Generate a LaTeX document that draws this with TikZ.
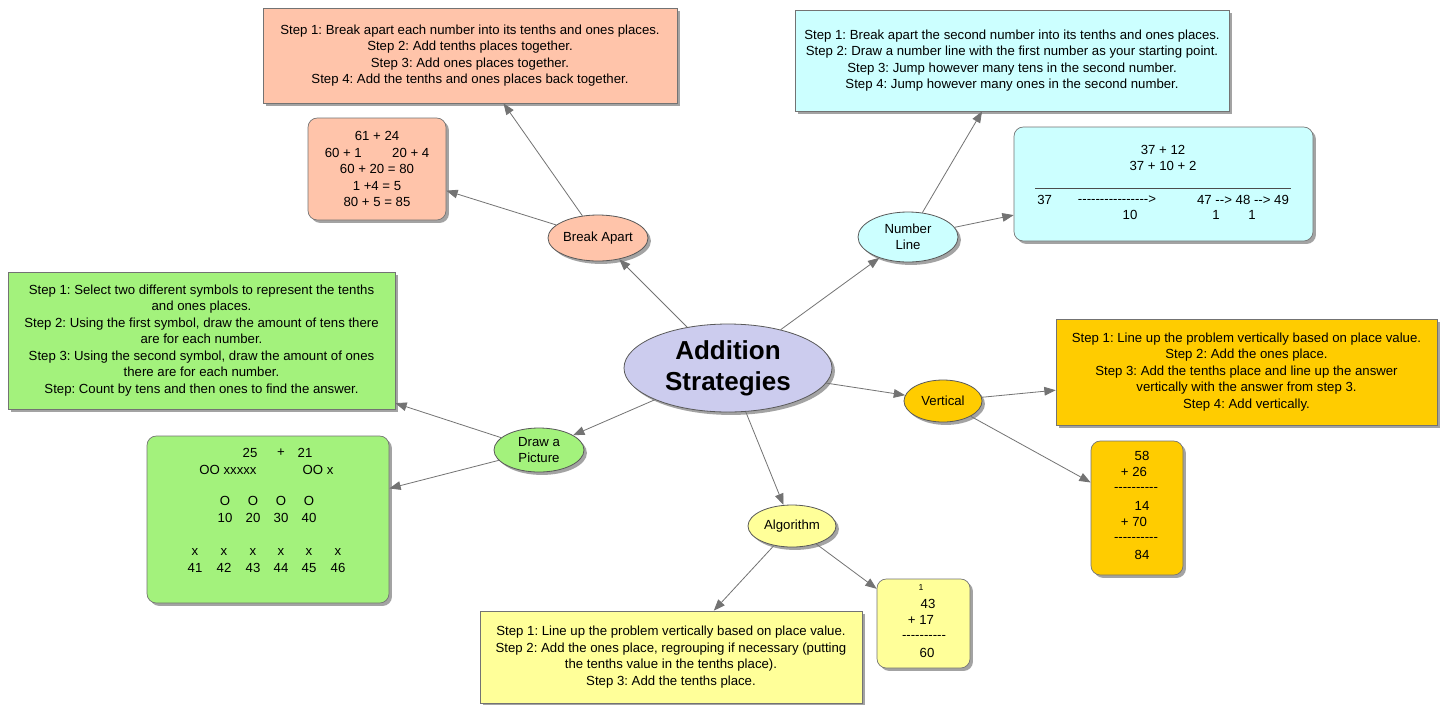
\documentclass[tikz,border=0pt]{standalone}
\usepackage{fontspec}
\setmainfont{Liberation Sans}[Ligatures=TeXOff]
\usetikzlibrary{shapes.geometric,shadows,arrows.meta}
\definecolor{csalmon}{HTML}{FFC4AA}
\definecolor{ccyan}{HTML}{CCFFFF}
\definecolor{clav}{HTML}{CCCCEE}
\definecolor{cgreen}{HTML}{A3F27C}
\definecolor{cgold}{HTML}{FFCC00}
\definecolor{cyel}{HTML}{FFFF99}
\frenchspacing
\begin{document}
\begin{tikzpicture}[x=0.75pt,y=-0.75pt,
  shd/.style={drop shadow={shadow xshift=2.2pt,shadow yshift=-2.2pt,fill=black!60,opacity=0.6}},
  stepbox/.style={draw=black!55,line width=0.5pt,shd,align=center,inner sep=0pt,font=\fontsize{9.9}{12.4}\selectfont},
  exbox/.style={stepbox,rounded corners=7pt},
  topic/.style={ellipse,draw=black!65,line width=0.6pt,shd,align=center,inner sep=0pt,font=\fontsize{9.9}{11.8}\selectfont},
  arr/.style={draw=black!55,line width=0.6pt,-{Triangle[length=8.5pt,width=6.5pt]}},
  txt/.style={inner sep=0pt,font=\fontsize{9.9}{12.4}\selectfont}
]
\useasboundingbox[fill=white] (0,0) rectangle (1445,704);

% central
\node[topic,fill=clav,minimum width=156pt,minimum height=66pt,font=\bfseries\fontsize{19.5}{23}\selectfont] (c) at (728,368) {Addition\\Strategies};

% Break Apart
\node[topic,fill=csalmon,minimum width=75pt,minimum height=34.5pt] (ba) at (598,238) {Break Apart};
\node[stepbox,fill=csalmon,minimum width=310.5pt,minimum height=71.25pt] (bas) at (470,55.5) {Step 1: Break apart each number into its tenths and ones places.\\Step 2: Add tenths places together.\\Step 3: Add ones places together.\\Step 4: Add the tenths and ones places back together.};
\node[exbox,fill=csalmon,minimum width=103.5pt,minimum height=76.5pt] (bae) at (377,169) {61 + 24\\60 + 1\hspace{2.3em}20 + 4\\60 + 20 = 80\\1 +4 = 5\\80 + 5 = 85};

% Number Line
\node[topic,fill=ccyan,minimum width=75pt,minimum height=37.5pt] (nl) at (908,237) {Number\\Line};
\node[stepbox,fill=ccyan,minimum width=325.5pt,minimum height=75.75pt] (nls) at (1012,60.5) {Step 1: Break apart the second number into its tenths and ones places.\\Step 2: Draw a number line with the first number as your starting point.\\Step 3: Jump however many tens in the second number.\\Step 4: Jump however many ones in the second number.};
\node[exbox,fill=ccyan,minimum width=224.25pt,minimum height=85.5pt] (nle) at (1163.5,184) {};
\node[txt] (nl1) at (1163,150) {37 + 12};
\node[txt] (nl2) at (1163,166) {37 + 10 + 2};
\coordinate (nlA) at (1035,188);
\coordinate (nlB) at (1291,188);
\draw[black!70,line width=0.5pt] (nlA) -- (nlB);
\node[txt,anchor=west] (nl3) at (1037,200) {37};
\node[txt] (nl4) at (1117,200) {----------------{}>};
\node[txt] (nl5) at (1243,200) {47 --{}> 48 --{}> 49};
\node[txt] (nl6) at (1130,215) {10};
\node[txt] (nl7) at (1216,215) {1};
\node[txt] (nl8) at (1252,215) {1};

% Vertical
\node[topic,fill=cgold,minimum width=58.5pt,minimum height=31.5pt] (ve) at (943,401) {Vertical};
\node[stepbox,fill=cgold,minimum width=285.75pt,minimum height=79.5pt] (ves) at (1246.5,372) {Step 1: Line up the problem vertically based on place value.\\Step 2: Add the ones place.\\Step 3: Add the tenths place and line up the answer\\vertically with the answer from step 3.\\Step 4: Add vertically.};
\node[exbox,fill=cgold,minimum width=69pt,minimum height=100.5pt] (vee) at (1137,508) {};
\node[txt] (v1) at (1142,456) {58};
\node[txt] (v2) at (1134,472) {+ 26};
\node[txt] (v3) at (1136,489) {----------};
\node[txt] (v4) at (1142,506) {14};
\node[txt] (v5) at (1134,522) {+ 70};
\node[txt] (v6) at (1136,539) {----------};
\node[txt] (v7) at (1142,555) {84};

% Algorithm
\node[topic,fill=cyel,minimum width=66pt,minimum height=31.5pt] (al) at (792,526) {Algorithm};
\node[stepbox,fill=cyel,minimum width=286.5pt,minimum height=69pt] (als) at (671,657) {Step 1: Line up the problem vertically based on place value.\\Step 2: Add the ones place, regrouping if necessary (putting\\the tenths value in the tenths place).\\Step 3: Add the tenths place.};
\node[exbox,fill=cyel,minimum width=69.75pt,minimum height=66.75pt] (ale) at (923.5,623.5) {};
\node[txt,font=\fontsize{6.5}{8}\selectfont] (a1) at (921,588) {1};
\node[txt] (a2) at (928,604) {43};
\node[txt] (a3) at (921,620) {+ 17};
\node[txt] (a4) at (924,637) {----------};
\node[txt] (a5) at (927,653) {60};

% Draw a Picture
\node[topic,fill=cgreen,minimum width=67.5pt,minimum height=33pt] (dp) at (539,450) {Draw a\\Picture};
\node[stepbox,fill=cgreen,minimum width=290.25pt,minimum height=102.75pt] (dps) at (201.5,340.5) {Step 1: Select two different symbols to represent the tenths\\and ones places.\\Step 2: Using the first symbol, draw the amount of tens there\\are for each number.\\Step 3: Using the second symbol, draw the amount of ones\\there are for each number.\\Step: Count by tens and then ones to find the answer.};
\node[exbox,fill=cgreen,minimum width=181.5pt,minimum height=125.25pt] (dpe) at (268,519.5) {};
\node[txt] (d1) at (250,453) {25};
\node[txt] (d2) at (281,453) {+};
\node[txt] (d3) at (305,453) {21};
\node[txt] (d4) at (228,470) {OO xxxxx};
\node[txt] (d5) at (318,470) {OO x};
\foreach \xx/\nn [count=\i] in {225/10,253/20,281/30,309/40}{
  \node[txt] (dO\i) at (\xx,501) {O};
  \node[txt] (dT\i) at (\xx,518) {\nn};
}
\foreach \xx/\nn [count=\i] in {195/41,224/42,253/43,281/44,309/45,338/46}{
  \node[txt] (dX\i) at (\xx,552) {x};
  \node[txt] (dN\i) at (\xx,568) {\nn};
}

% connectors
\draw[arr] (c) -- (ba);
\draw[arr] (ba) -- (bas);
\draw[arr] (ba) -- (bae);
\draw[arr] (c) -- (nl);
\draw[arr] (nl) -- (nls);
\draw[arr] (nl) -- (nle);
\draw[arr] (c) -- (ve);
\draw[arr] (ve) -- (ves);
\draw[arr] (ve) -- (vee);
\draw[arr] (c) -- (al);
\draw[arr] (al) -- (als);
\draw[arr] (al) -- (ale);
\draw[arr] (c) -- (dp);
\draw[arr] (dp) -- (dps);
\draw[arr] (dp) -- (dpe);
\end{tikzpicture}
\end{document}
